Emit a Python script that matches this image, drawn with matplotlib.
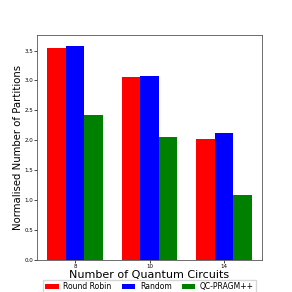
import matplotlib
matplotlib.use('Agg')
from matplotlib import pyplot as plt
import numpy as np

circuits = ['8', '10', '14']
round_robin = [3.55, 3.05, 2.02]
random_alloc = [3.58, 3.07, 2.12]
qc_pragm = [2.43, 2.05, 1.08]


def display_bars():
    x = np.arange(len(circuits))
    width = 0.25

    fig, ax = plt.subplots(figsize=(2.92, 2.92), dpi=100)
    ax.bar(x - width, round_robin, width, color='red', label='Round Robin')
    ax.bar(x, random_alloc, width, color='blue', label='Random')
    ax.bar(x + width, qc_pragm, width, color='green', label='QC-PRAGM++')

    ax.set_xticks(x)
    ax.set_xticklabels(circuits)
    ax.tick_params(labelsize=4, length=2, width=0.5, pad=1)
    for s in ax.spines.values():
        s.set_linewidth(0.6)
        s.set_color('#555555')
    ax.set_xlabel('Number of Quantum Circuits', fontsize=8, labelpad=1)
    ax.set_ylabel('Normalised Number of Partitions', fontsize=7.3, labelpad=1)
    ax.legend(loc='upper center', bbox_to_anchor=(0.5, -0.088), ncol=3,
              fontsize=5.5, frameon=True, fancybox=False, edgecolor='#cccccc',
              handlelength=1.8, handletextpad=0.6, columnspacing=1.3,
              borderaxespad=0, borderpad=0.3)

    fig.subplots_adjust(left=0.127, right=0.897, top=0.88, bottom=0.11)
    fig.savefig('out.png', dpi=100)


if __name__ == '__main__':
    display_bars()
